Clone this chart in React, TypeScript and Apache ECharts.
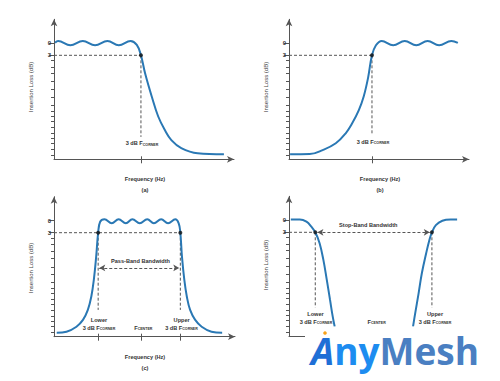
import React, { useEffect, useRef } from "react";
import * as echarts from "echarts";

// ---------- data ----------
const yTicks = [0, 3, 4.3, 6, 7.6, 9.5, 11.6, 13.5, 15.4, 17, 18.2, 19.6, 21, 22.5, 23.8, 25.1, 26.5, 28];
const yLabelValues = [0, 3];

// (a) low-pass
const lowPassX = [0.6, 2.3, 9.1, 16, 22.8, 29.7, 36, 42.5, 46, 48.3, 50.6, 54.3, 57.9, 61.6, 65.2, 70.7, 79.8, 94.4];
const lowPassDb = [-0.15, -0.6, 0.5, -0.6, 0.5, -0.6, 0.5, -0.6, 0.4, 3, 7.5, 13.3, 18.3, 21.7, 24.2, 26.2, 27.5, 27.75];
const lowCorner = 48.3;

// (b) high-pass
const highPassX = [0.6, 11.5, 18.7, 26, 31.5, 35.1, 38.8, 41.5, 43.9, 46.1, 48.3, 51.5, 57.9, 64.3, 70.7, 77, 83.4, 90.2, 93.8];
const highPassDb = [27.75, 27.7, 26.7, 25, 22.5, 20, 16.7, 13.3, 8.7, 3, 0.5, -0.6, 0.5, -0.6, 0.5, -0.6, 0.5, -0.6, -0.1];
const highCorner = 46.1;

// (c) band-pass
const bandPassX = [1.5, 6.9, 12.4, 16, 18.7, 20.6, 22, 23.3, 24.4, 25.5, 27.9, 31.9, 35.7, 39.7, 43.3, 47.4, 51.5, 55.2, 59.2, 63, 67, 68.9, 69.8, 70.7, 72, 73.4, 75.2, 78, 81.6, 87, 92.9];
const bandPassDb = [28, 27.75, 26.5, 24.8, 22.3, 19, 14.8, 9, 3, 0.25, -0.35, 0.65, -0.35, 0.65, -0.35, 0.65, -0.35, 0.65, -0.35, 0.65, -0.35, 0.65, 3, 9, 14.8, 19, 22.3, 24.8, 26.5, 27.75, 28];
const bandLower = 24.4;
const bandUpper = 69.8;
const bandCenter = 48.2;
const passBandLevel = 11.8;

// (d) band-stop
const stopLowX = [1, 6, 9.7, 12.4, 14.6, 17, 19.1, 21, 22.8, 24.3, 25.4];
const stopLowDb = [-0.2, -0.2, 0.35, 1.6, 3, 5.75, 9.9, 14.9, 19.9, 24.1, 26.6];
const stopHighX = [68.9, 70.1, 72, 73.8, 76.2, 78, 79.4, 81.6, 85.2, 89.8, 93.4];
const stopHighDb = [26.6, 23.25, 18.25, 13.25, 8.25, 4.9, 3, 1.2, 0.1, -0.2, -0.2];
const stopLower = 14.6;
const stopUpper = 79.4;
const stopCenter = 47.9;

const cornerLevel = 3;

// ---------- styles ----------
const FONT = '"Liberation Sans", Arial, sans-serif';
const AX = "#555";
const BLUE = "#2a78b4";
const DASH = "#555";
const TXT = "#333";

const grids = [
  { left: 54, top: 19.3, width: 180, height: 140 },
  { left: 289, top: 19.3, width: 180, height: 140 },
  { left: 54, top: 196.7, width: 181, height: 140 },
  { left: 289, top: 196.3, width: 180, height: 140 },
];

function xAxes(g: number, ticks: number[]) {
  return [
    {
      gridIndex: g, type: "value", min: 0, max: 100, position: "bottom",
      axisLine: { show: true, onZero: false, symbol: ["none", "arrow"], symbolSize: [5, 7], lineStyle: { color: AX, width: 1 } },
      axisTick: { show: true, customValues: ticks, length: 4, lineStyle: { color: AX, width: 1 } },
      axisLabel: { show: false }, splitLine: { show: false },
    },
    {
      gridIndex: g, type: "value", min: 0, max: 100, position: "bottom",
      axisLine: { show: false, onZero: false },
      axisTick: { show: true, inside: true, customValues: ticks, length: 3, lineStyle: { color: AX, width: 1 } },
      axisLabel: { show: false }, splitLine: { show: false },
    },
  ];
}

function yAxes(g: number) {
  return [
    {
      gridIndex: g, type: "value", min: -6, max: 29, inverse: true, position: "left",
      axisLine: { show: true, onZero: false, symbol: ["none", "arrow"], symbolSize: [5, 7], lineStyle: { color: AX, width: 1 } },
      axisTick: { show: true, customValues: yTicks, length: 3, lineStyle: { color: AX, width: 1 } },
      axisLabel: { show: false }, splitLine: { show: false },
    },
    {
      gridIndex: g, type: "value", min: -6, max: 29, inverse: true, position: "left",
      axisLine: { show: false, onZero: false },
      axisTick: { show: true, customValues: yLabelValues, length: 5, lineStyle: { color: AX, width: 1 } },
      axisLabel: { show: true, customValues: yLabelValues, fontSize: 6, color: TXT, margin: 3, fontFamily: FONT, fontWeight: "bold" },
      splitLine: { show: false },
    },
  ];
}

function curve(g: number, xs: number[], ys: number[]) {
  return {
    type: "line", xAxisIndex: 2 * g, yAxisIndex: 2 * g,
    data: xs.map((x, k) => [x, ys[k]]),
    smooth: 0.4, symbol: "none", silent: true, z: 3,
    lineStyle: { color: BLUE, width: 2 },
  };
}

function dashed(g: number, pts: number[][], extra: any = {}) {
  return {
    type: "line", xAxisIndex: 2 * g, yAxisIndex: 2 * g,
    data: pts, symbol: "none", silent: true, z: 2,
    lineStyle: { color: DASH, width: 1, type: [3, 2] },
    ...extra,
  };
}

function arrowLine(a: number, b: number, y: number) {
  return {
    markLine: {
      silent: true, symbol: ["arrow", "arrow"], symbolSize: [5, 6],
      label: { show: false },
      lineStyle: { color: DASH, width: 1, type: [3, 2] },
      data: [[{ coord: [a, y] }, { coord: [b, y] }]],
    },
  };
}

function dots(g: number, pts: number[][]) {
  return {
    type: "scatter", xAxisIndex: 2 * g, yAxisIndex: 2 * g,
    data: pts, symbolSize: 4, silent: true, z: 4,
    itemStyle: { color: "#111" },
  };
}

function txt(x: number, y: number, text: string, size = 5.6, bold = true, extra: any = {}) {
  return {
    type: "text", x, y, silent: true, z: 10,
    style: {
      text, fill: TXT, fontSize: size, fontWeight: bold ? "bold" : "normal", fontFamily: FONT,
      align: "center", verticalAlign: "middle",
    },
    ...extra,
  };
}

const subRich = {
  m: { fontSize: 5.6, fontWeight: "bold", fontFamily: FONT, fill: TXT },
  s: { fontSize: 3.6, fontWeight: "bold", fontFamily: FONT, fill: TXT, padding: [2.5, 0, 0, 0] },
};

function sub(x: number, y: number, main: string, s: string) {
  return {
    type: "text", x, y, silent: true, z: 10,
    style: { text: `{m|${main}}{s|${s}}`, rich: subRich, align: "center", verticalAlign: "middle" },
  };
}

function yName(x: number, y: number) {
  return {
    type: "text", x, y, rotation: Math.PI / 2, silent: true, z: 10,
    style: { text: "Insertion Loss (dB)", fill: "#444", fontSize: 6, fontFamily: FONT, align: "center", verticalAlign: "middle" },
  };
}

const LOGO_FONT = '"Open Sans", sans-serif';

export default function App() {
  const ref = useRef<HTMLDivElement>(null);
  useEffect(() => {
    document.body.style.margin = "0";
    const chart = echarts.init(ref.current!, null, { renderer: "svg" });
    const option: any = {
      animation: false,
      backgroundColor: "#fff",
      grid: grids,
      xAxis: [
        ...xAxes(0, [lowCorner]),
        ...xAxes(1, [highCorner]),
        ...xAxes(2, [bandLower, bandCenter, bandUpper]),
        ...xAxes(3, [stopLower, stopCenter, stopUpper]),
      ],
      yAxis: [...yAxes(0), ...yAxes(1), ...yAxes(2), ...yAxes(3)],
      series: [
        // (a)
        dashed(0, [[0, cornerLevel], [lowCorner, cornerLevel]]),
        dashed(0, [[lowCorner, cornerLevel], [lowCorner, 23.4]]),
        curve(0, lowPassX, lowPassDb),
        dots(0, [[lowCorner, cornerLevel]]),
        // (b)
        dashed(1, [[0, cornerLevel], [highCorner, cornerLevel]]),
        dashed(1, [[highCorner, cornerLevel], [highCorner, 22.9]]),
        curve(1, highPassX, highPassDb),
        dots(1, [[highCorner, cornerLevel]]),
        // (c)
        dashed(2, [[0, cornerLevel], [bandUpper, cornerLevel]]),
        dashed(2, [[bandLower, cornerLevel], [bandLower, 22.3]]),
        dashed(2, [[bandUpper, cornerLevel], [bandUpper, 22.3]], arrowLine(bandLower + 0.6, bandUpper - 0.6, passBandLevel)),
        curve(2, bandPassX, bandPassDb),
        dots(2, [[bandLower, cornerLevel], [bandUpper, cornerLevel]]),
        // (d)
        dashed(3, [[0, cornerLevel], [stopLower, cornerLevel]], arrowLine(stopLower + 1.2, stopUpper - 1.2, cornerLevel)),
        dashed(3, [[stopLower, cornerLevel], [stopLower, 21.8]]),
        dashed(3, [[stopUpper, cornerLevel], [stopUpper, 21.8]]),
        curve(3, stopLowX, stopLowDb),
        curve(3, stopHighX, stopHighDb),
        dots(3, [[stopLower, cornerLevel], [stopUpper, cornerLevel]]),
      ],
      graphic: [
        yName(31, 87), yName(266, 87), yName(31, 268), yName(266, 265),
        // (a)
        sub(142, 143.3, "3 dB F", "CORNER"),
        txt(145, 179, "Frequency (Hz)"),
        txt(145, 189.5, "(a)"),
        // (b)
        sub(373, 141.7, "3 dB F", "CORNER"),
        txt(380, 179, "Frequency (Hz)"),
        txt(380, 189.5, "(b)"),
        // (c)
        txt(140.5, 261, "Pass-Band Bandwidth"),
        txt(99, 319.7, "Lower"),
        sub(99, 328, "3 dB F", "CORNER"),
        sub(143.3, 328, "F", "CENTER"),
        txt(181.7, 319.7, "Upper"),
        sub(181.5, 328, "3 dB F", "CORNER"),
        txt(145, 356.5, "Frequency (Hz)"),
        txt(145, 367.7, "(c)"),
        // (d)
        txt(368.3, 225, "Stop-Band Bandwidth"),
        txt(315.5, 314, "Lower"),
        sub(316, 321.5, "3 dB F", "CORNER"),
        sub(376.7, 321.5, "F", "CENTER"),
        txt(435, 314, "Upper"),
        sub(435, 321.5, "3 dB F", "CORNER"),
        // logo watermark
        { type: "rect", z: 20, silent: true, shape: { x: 305, y: 326.5, width: 195, height: 55 }, style: { fill: "#fff" } },
        {
          type: "text", x: 311, y: 350.5, z: 21, silent: true,
          style: {
            text: "{a|A}{b|ny}{c|Mesh}", align: "left", verticalAlign: "middle",
            rich: {
              a: { fontSize: 37, lineHeight: 26, fontWeight: "bold", fontStyle: "italic", fontFamily: LOGO_FONT, fill: "#1f6fd6" },
              b: { fontSize: 37, lineHeight: 26, fontWeight: "bold", fontFamily: LOGO_FONT, fill: "#1d8cf0" },
              c: { fontSize: 37, lineHeight: 26, fontWeight: "bold", fontFamily: LOGO_FONT, fill: "#4a7fc2" },
            },
          },
        },
        { type: "circle", z: 22, silent: true, shape: { cx: 325, cy: 333, r: 1.8 }, style: { fill: "#f7a21b" } },
      ],
    };
    chart.setOption(option);
    return () => chart.dispose();
  }, []);
  return <div ref={ref} style={{ width: 500, height: 381 }} />;
}
